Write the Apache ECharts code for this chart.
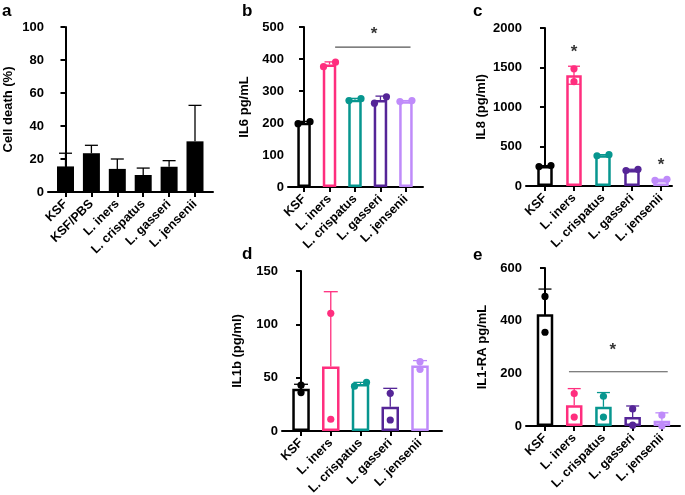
<!DOCTYPE html>
<html>
<head>
<meta charset="utf-8">
<script src="https://cdn.jsdelivr.net/npm/echarts@6/dist/echarts.min.js"></script>
<style>html,body{margin:0;padding:0;background:#fff}#c{width:685px;height:495px}</style>
</head>
<body>
<div id="c"></div>
<script>
// ---------- data ----------
const catsA = ['KSF', 'KSF/PBS', 'L. iners', 'L. crispatus', 'L. gasseri', 'L. jensenii'];
const meanA = [15.5, 23.5, 14.0, 10.3, 15.3, 30.7];
const hiA   = [23.5, 28.3, 20.0, 14.5, 19.0, 52.5];
const ticksA = [0, 20, 40, 60, 80, 100];

const catsBE = ['KSF', 'L. iners', 'L. crispatus', 'L. gasseri', 'L. jensenii'];

const meanB = [201, 383, 273, 272, 268];
const hiB   = [205, 391, 277, 284, 270];
const loB   = [201, 383, 273, 272, 268];
const pts1B = [198, 376, 270, 262, 267];
const pts2B = [204, 390, 276, 282, 270];
const ticksB = [0, 100, 200, 300, 400, 500];
const sigLineB = [[1.22, 437], [4.18, 437]];
const starsB = [[2.75, 490]];

const meanC = [252, 1402, 390, 203, 77];
const hiC   = [258, 1516, 397, 212, 85];
const loC   = [252, 1288, 390, 203, 77];
const pts1C = [246, 1483, 383, 195, 70];
const pts2C = [258, 1322, 397, 211, 84];
const ticksC = [0, 500, 1000, 1500, 2000];
const starsC = [[1, 1737], [4, 314]];

const meanD = [39.5, 60.5, 44.0, 22.8, 61.4];
const hiD   = [43.8, 130.6, 45.6, 40.0, 66.0];
const loD   = [39.5, 60.5, 44.0, 22.8, 61.4];
const pts1D = [43.0, 110.3, 42.0, 35.3, 65.0];
const pts2D = [36.0, 11.0, 45.6, 10.3, 57.8];
const ticksD = [0, 50, 100, 150];

const meanE = [424, 79, 73, 34, 20];
const hiE   = [520, 142, 127, 76, 50];
const loE   = [424, 79, 73, 34, 20];
const pts1E = [492, 123, 113, 65, 41];
const pts2E = [356, 34, 34, 3, 0];
const ticksE = [0, 200, 400, 600];
const sigLineE = [[0.82, 206], [4.2, 206]];
const starsE = [[2.32, 304]];

// ---------- styles ----------
const COLORS = ['#000000', '#ff2e7e', '#07968f', '#552597', '#bf8bfa'];
const FONT = '"Liberation Sans", Arial, sans-serif';

const panels = [
  { letter: 'a', name: 'Cell death (%)', cats: catsA, mean: meanA, hi: hiA, lo: meanA, ticks: ticksA,
    filled: true, grid: { left: 48, top: 27, width: 165, height: 165 }, xr: [-0.676, 5.695],
    barW: 17, cap: 6.5, nameGap: 33, letterPos: [2, 3] },
  { letter: 'b', name: 'IL6 pg/mL', cats: catsBE, mean: meanB, hi: hiB, lo: loB, p1: pts1B, p2: pts2B, ticks: ticksB,
    grid: { left: 288, top: 27, width: 135, height: 160 }, xr: [-0.63, 4.67],
    barW: 13.5, cap: 5, nameGap: 37, sig: sigLineB, stars: starsB, letterPos: [242, 3] },
  { letter: 'c', name: 'IL8 (pg/ml)', cats: catsBE, mean: meanC, hi: hiC, lo: loC, p1: pts1C, p2: pts2C, ticks: ticksC,
    grid: { left: 526, top: 28, width: 146, height: 158 }, xr: [-0.655, 4.38],
    barW: 15.5, cap: 6, nameGap: 38, stars: starsC, letterPos: [473, 3] },
  { letter: 'd', name: 'IL1b (pg/ml)', cats: catsBE, mean: meanD, hi: hiD, lo: loD, p1: pts1D, p2: pts2D, ticks: ticksD,
    grid: { left: 282, top: 271, width: 160, height: 160 }, xr: [-0.64, 4.74],
    barW: 17.5, cap: 7, nameGap: 38, letterPos: [242, 246] },
  { letter: 'e', name: 'IL1-RA pg/mL', cats: catsBE, mean: meanE, hi: hiE, lo: loE, p1: pts1E, p2: pts2E, ticks: ticksE,
    grid: { left: 526, top: 268, width: 154, height: 158 }, xr: [-0.65, 4.62],
    barW: 16.5, cap: 6.5, nameGap: 37, sig: sigLineE, stars: starsE, letterPos: [473, 247] }
];

const option = { animation: false, backgroundColor: '#fff', grid: [], xAxis: [], yAxis: [], series: [], title: [] };

panels.forEach((p, gi) => {
  const idxs = p.cats.map((_, i) => i);
  const colorOf = i => p.filled ? '#000' : COLORS[i];
  const tks = p.ticks;
  option.title.push({ text: p.letter, left: p.letterPos[0], top: p.letterPos[1], padding: 0,
    textStyle: { fontFamily: FONT, fontWeight: 'bold', fontSize: 17, color: '#000' } });
  option.grid.push(Object.assign({ containLabel: false, outerBoundsMode: 'none' }, p.grid));
  option.xAxis.push({
    type: 'value', gridIndex: gi, min: p.xr[0], max: p.xr[1],
    axisLine: { show: true, onZero: false, lineStyle: { color: '#000', width: 2 } },
    axisTick: { show: true, customValues: idxs, length: 5, lineStyle: { color: '#000', width: 2 } },
    axisLabel: { show: true, customValues: idxs, rotate: 45, margin: 10,
      formatter: v => p.cats[Math.round(v)] || '',
      fontFamily: FONT, fontWeight: 'bold', fontSize: 12.5, color: '#000' },
    splitLine: { show: false }
  });
  option.yAxis.push({
    type: 'value', gridIndex: gi, min: tks[0], max: tks[tks.length - 1], interval: tks[1] - tks[0],
    name: p.name, nameLocation: 'middle', nameGap: p.nameGap,
    nameTextStyle: { fontFamily: FONT, fontWeight: 'bold', fontSize: 13, color: '#000' },
    axisLine: { show: true, lineStyle: { color: '#000', width: 2 } },
    axisTick: { show: true, length: 5, lineStyle: { color: '#000', width: 2 } },
    axisLabel: { fontFamily: FONT, fontWeight: 'bold', fontSize: 13, color: '#000', margin: 4,
      formatter: v => String(v) },
    splitLine: { show: false }
  });
  // bars
  option.series.push({
    type: 'bar', xAxisIndex: gi, yAxisIndex: gi, barWidth: p.barW, z: 2,
    data: p.mean.map((v, i) => ({
      value: [i, v],
      itemStyle: p.filled ? { color: '#000' } : { color: '#fff', borderColor: COLORS[i], borderWidth: 2.5 }
    }))
  });
  // error bars
  const cap = p.cap;
  option.series.push({
    type: 'custom', xAxisIndex: gi, yAxisIndex: gi, z: 4,
    data: p.mean.map((v, i) => [i, p.lo[i], p.hi[i], v]),
    renderItem: (params, api) => {
      const i = api.value(0), lo = api.value(1), hi = api.value(2), m = api.value(3);
      const top = api.coord([i, hi]);
      const mid = api.coord([i, m]);
      const bot = api.coord([i, lo]);
      const c = colorOf(i);
      const st = { stroke: c, lineWidth: 1.3 };
      const ch = [
        { type: 'line', shape: { x1: top[0], y1: top[1], x2: bot[0], y2: Math.max(bot[1], mid[1]) }, style: st },
        { type: 'line', shape: { x1: top[0] - cap, y1: top[1], x2: top[0] + cap, y2: top[1] }, style: st }
      ];
      if (lo < m) ch.push({ type: 'line', shape: { x1: bot[0] - cap, y1: bot[1], x2: bot[0] + cap, y2: bot[1] }, style: st });
      return { type: 'group', children: ch };
    }
  });
  // individual points
  if (p.p1) {
    option.series.push({
      type: 'custom', xAxisIndex: gi, yAxisIndex: gi, z: 5,
      data: p.p1.map((v, i) => [i, v, p.p2[i]]),
      renderItem: (params, api) => {
        const i = api.value(0);
        const a = api.coord([i, api.value(1)]);
        const b = api.coord([i, api.value(2)]);
        let dx = 0;
        if (Math.abs(a[1] - b[1]) < 7) dx = 6;
        const c = COLORS[i];
        return { type: 'group', children: [
          { type: 'circle', shape: { cx: a[0] - dx, cy: a[1], r: 3.6 }, style: { fill: c } },
          { type: 'circle', shape: { cx: b[0] + dx, cy: b[1], r: 3.6 }, style: { fill: c } }
        ] };
      }
    });
  }
  if (p.sig) {
    option.series.push({
      type: 'line', xAxisIndex: gi, yAxisIndex: gi, data: p.sig, symbol: 'none', silent: true, z: 3,
      lineStyle: { color: '#555', width: 1.2 }
    });
  }
  if (p.stars) {
    option.series.push({
      type: 'scatter', xAxisIndex: gi, yAxisIndex: gi, data: p.stars, symbolSize: 0, silent: true, z: 6,
      label: { show: true, position: 'inside', formatter: '*', offset: [0, 4],
        fontFamily: FONT, fontWeight: 'bold', fontSize: 17, color: '#000' }
    });
  }
});

const chart = echarts.init(document.getElementById('c'), null, { renderer: 'canvas' });
chart.setOption(option);
</script>
</body>
</html>
